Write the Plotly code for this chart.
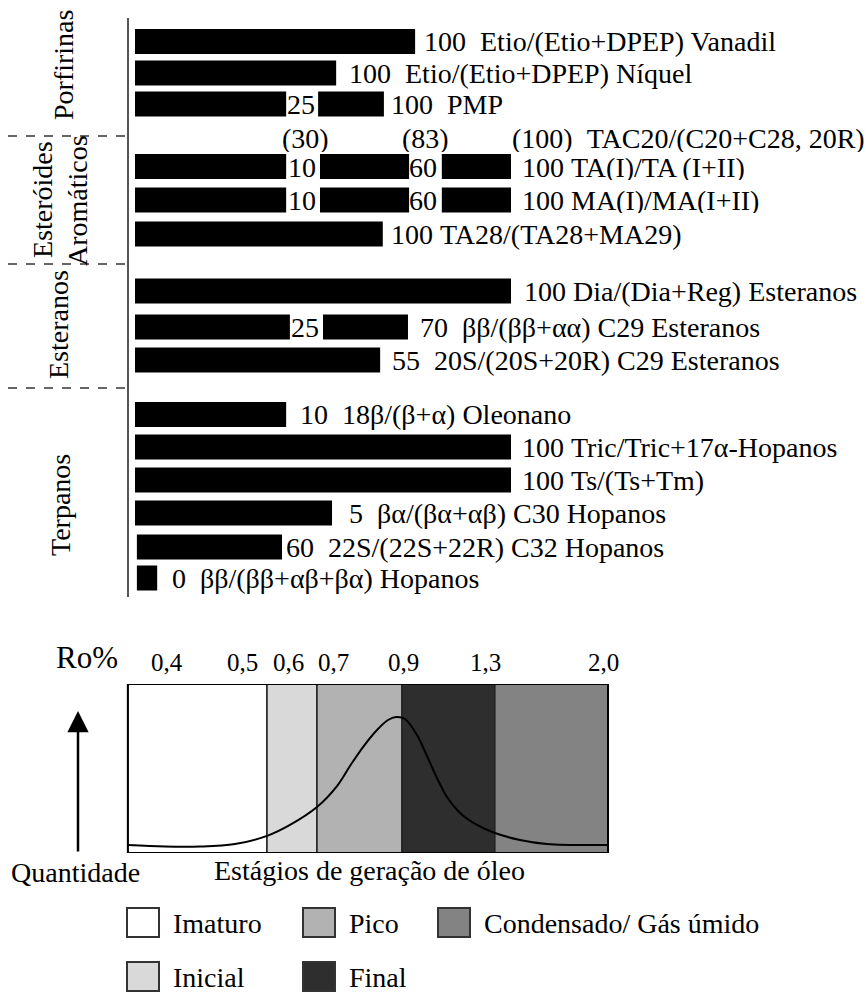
import plotly.graph_objects as go

W, H = 866, 993
FONT = "Liberation Serif"

# ---------------- data ----------------
PARAM_NAMES = [
    "Etio/(Etio+DPEP) Vanadil",
    "Etio/(Etio+DPEP) Níquel",
    "PMP",
    "TAC20/(C20+C28, 20R)",
    "TA(I)/TA (I+II)",
    "MA(I)/MA(I+II)",
    "TA28/(TA28+MA29)",
    "Dia/(Dia+Reg) Esteranos",
    "ββ/(ββ+αα) C29 Esteranos",
    "20S/(20S+20R) C29 Esteranos",
    "18β/(β+α) Oleonano",
    "Tric/Tric+17α-Hopanos",
    "Ts/(Ts+Tm)",
    "βα/(βα+αβ) C30 Hopanos",
    "22S/(22S+22R) C32 Hopanos",
    "ββ/(ββ+αβ+βα) Hopanos",
]
END_VALUES = ["100", "100", "100", "(100)", "100", "100", "100", "100",
              "70", "55", "10", "100", "100", "5", "60", "0"]
DOUBLE_SPACE = [True, True, True, True, False, False, False, False,
                True, True, True, False, False, True, True, True]

# bar segments (relative maturity scale, 0 = start, 100 = full bar)
SEG_START = [[0], [0], [0, 48.7], [], [0, 49.2, 81.6], [0, 49.2, 81.6], [0], [0],
             [0, 50.0], [0], [0], [0], [0], [0], [0.5], [0.5]]
SEG_END = [[74.5], [53.5], [40.2, 66.2], [], [40.2, 72.9, 100], [40.2, 72.9, 100],
           [65.9], [100], [41.2, 72.6], [65.2], [40.2], [100], [100], [52.4], [39.1], [5.9]]
MID_LABELS = [[], [], ["25"], ["(30)", "(83)"], ["10", "60"], ["10", "60"], [], [],
              ["25"], [], [], [], [], [], [], []]
MID_LABEL_X = [[], [], [40.5], [39.0, 71.0], [40.8, 72.9], [40.8, 72.9], [], [],
               [41.5], [], [], [], [], [], [], []]
END_LABEL_X = [76.3, 56.4, 67.6, 99.7, 102.4, 102.4, 67.6, 102.9,
               75.3, 67.8, 43.4, 102.4, 102.4, 56.4, 39.6, 9.3]

GROUPS = ["Porfirinas", "Esteróides", "Aromáticos", "Esteranos", "Terpanos"]

RO_TICKS = ["0,4", "0,5", "0,6", "0,7", "0,9", "1,3", "2,0"]
STAGES = ["Imaturo", "Inicial", "Pico", "Final", "Condensado/ Gás úmido"]
STAGE_EDGES = [-1.9, 35.1, 48.4, 71.0, 95.7, 125.8]
STAGE_COLORS = ["#ffffff", "#d9d9d9", "#b2b2b2", "#2e2e2e", "#838383"]

# oil generation curve (relative quantity, 0 = box bottom, 1 = box top)
CURVE_X = [-1.86, 7.98, 17.29, 26.6, 35.11, 41.22, 48.40, 53.72, 57.18, 60.64, 64.36,
           67.29, 69.41, 71.81, 75.00, 77.66, 80.32, 82.98, 86.44, 90.96, 95.74,
           102.39, 109.57, 125.80]
CURVE_Y = [0.047, 0.038, 0.038, 0.053, 0.101, 0.166, 0.272, 0.396, 0.515, 0.627, 0.728,
           0.787, 0.805, 0.793, 0.698, 0.574, 0.444, 0.331, 0.237, 0.166, 0.118,
           0.077, 0.053, 0.047]

# ---------------- layout helpers ----------------
X_ORIGIN_PX = 135.0
X_UNIT_PX = 3.76
X_RANGE = [-X_ORIGIN_PX / X_UNIT_PX, (W - X_ORIGIN_PX) / X_UNIT_PX]
ROW_Y = [41.5, 73, 104, 138, 166.5, 200, 234, 291, 327, 360, 414.5, 447, 480, 513, 547, 578]
ROW_BOX_H = [None, None, None, 28, 26, 26, None, None, None, None, None, None, None,
             None, None, None]
BAR_H = 25
RO_TICK_X = [8.5, 28.7, 40.7, 52.7, 71.3, 93.1, 124.5]
BOX_TOP, BOX_BOT = 684, 853


def px(x):
    return x / W


def py(y):
    return 1 - y / H


fig = go.Figure()

# bars
bx, bbase, by = [], [], []
for i, (starts, ends) in enumerate(zip(SEG_START, SEG_END)):
    for s, e in zip(starts, ends):
        bx.append(e - s)
        bbase.append(s)
        by.append(ROW_Y[i])
fig.add_trace(go.Bar(x=bx, base=bbase, y=by, orientation="h", width=BAR_H,
                     marker=dict(color="black", line=dict(width=0)),
                     xaxis="x", yaxis="y", showlegend=False, hoverinfo="skip"))

ann = []


def tfont(size=28):
    return dict(family=FONT, size=size, color="black")


for i, name in enumerate(PARAM_NAMES):
    sep = "\u00a0\u00a0" if DOUBLE_SPACE[i] else "\u00a0"
    extra = {} if ROW_BOX_H[i] is None else {"height": ROW_BOX_H[i]}
    ann.append(dict(x=END_LABEL_X[i], y=ROW_Y[i], xref="x", yref="y",
                    text=END_VALUES[i] + sep + name, showarrow=False,
                    xanchor="left", yanchor="middle", font=tfont(), **extra))
    for lab, lx in zip(MID_LABELS[i], MID_LABEL_X[i]):
        ann.append(dict(x=lx, y=ROW_Y[i], xref="x", yref="y", text=lab,
                        showarrow=False, xanchor="left", yanchor="middle",
                        xshift=-2, font=tfont(), **extra))

# group labels (rotated)
GROUP_POS = [(64, 65), (43, 200), (78, 201), (58, 325), (60, 505)]
for g, (gx, gy) in zip(GROUPS, GROUP_POS):
    ann.append(dict(x=px(gx), y=py(gy), xref="paper", yref="paper", text=g,
                    textangle=-90, showarrow=False, xanchor="center",
                    yanchor="middle", font=tfont()))

shapes = []
# axis line
shapes.append(dict(type="line", xref="paper", yref="paper", x0=px(128), x1=px(128),
                   y0=py(18), y1=py(597), line=dict(color="#555555", width=2)))
# dashed separators
for yy in [136, 264, 388]:
    shapes.append(dict(type="line", xref="paper", yref="paper", x0=px(8), x1=px(128),
                       y0=py(yy), y1=py(yy),
                       line=dict(color="#666666", width=2, dash="dash")))

# stage bands
for k in range(len(STAGES)):
    shapes.append(dict(type="rect", xref="x", yref="y2",
                       x0=STAGE_EDGES[k], x1=STAGE_EDGES[k + 1], y0=0, y1=1,
                       fillcolor=STAGE_COLORS[k], layer="below",
                       line=dict(color="#222222", width=1.5)))
shapes.append(dict(type="rect", xref="x", yref="y2", x0=STAGE_EDGES[0],
                   x1=STAGE_EDGES[-1], y0=0, y1=1, layer="above",
                   line=dict(color="black", width=2)))

fig.add_trace(go.Scatter(x=CURVE_X, y=CURVE_Y, mode="lines", xaxis="x", yaxis="y2",
                         line=dict(color="black", width=2, shape="spline", smoothing=1.0),
                         showlegend=False, hoverinfo="skip"))

# Ro ticks
for t, tx in zip(RO_TICKS, RO_TICK_X):
    ann.append(dict(x=tx, y=py(662), xref="x", yref="paper", text=t, showarrow=False,
                    xanchor="center", yanchor="middle", font=tfont(25)))
ann.append(dict(x=px(87), y=py(657), xref="paper", yref="paper", text="Ro%",
                showarrow=False, xanchor="center", yanchor="middle", font=tfont(31)))

# arrow
arrow_x = (78 - X_ORIGIN_PX) / X_UNIT_PX
ann.append(dict(x=arrow_x, y=0.84, ax=arrow_x, ay=0, xref="x", yref="y2",
                axref="x", ayref="y2", text="", showarrow=True, arrowhead=2,
                arrowsize=1.7, arrowwidth=2.5, arrowcolor="black"))
ann.append(dict(x=px(75), y=py(872), xref="paper", yref="paper", text="Quantidade",
                showarrow=False, xanchor="center", yanchor="middle", font=tfont()))
ann.append(dict(x=px(369), y=py(870), xref="paper", yref="paper",
                text="Estágios de geração de óleo", showarrow=False,
                xanchor="center", yanchor="middle", font=tfont()))

# legend
LEG_POS = [(127, 908), (127, 962), (303, 908), (303, 962), (438, 908)]
for k, (lx, ly) in enumerate(LEG_POS):
    shapes.append(dict(type="rect", xref="paper", yref="paper",
                       x0=px(lx), x1=px(lx + 32), y0=py(ly), y1=py(ly + 29),
                       fillcolor=STAGE_COLORS[k], line=dict(color="#333333", width=2)))
    ann.append(dict(x=px(lx + 44), y=py(ly + 15), xref="paper", yref="paper",
                    text=STAGES[k], showarrow=False, xanchor="left",
                    yanchor="middle", font=tfont()))

fig.update_layout(
    width=W, height=H, margin=dict(l=0, r=0, t=0, b=0),
    paper_bgcolor="white", plot_bgcolor="rgba(0,0,0,0)",
    barmode="overlay", showlegend=False,
    xaxis=dict(domain=[0, 1], range=X_RANGE, visible=False, fixedrange=True),
    yaxis=dict(domain=[0, 1], range=[H, 0], visible=False, fixedrange=True),
    yaxis2=dict(domain=[py(BOX_BOT), py(BOX_TOP)], range=[0, 1], visible=False,
                anchor="x", fixedrange=True),
    shapes=shapes, annotations=ann,
)

fig.write_html("out.html")
